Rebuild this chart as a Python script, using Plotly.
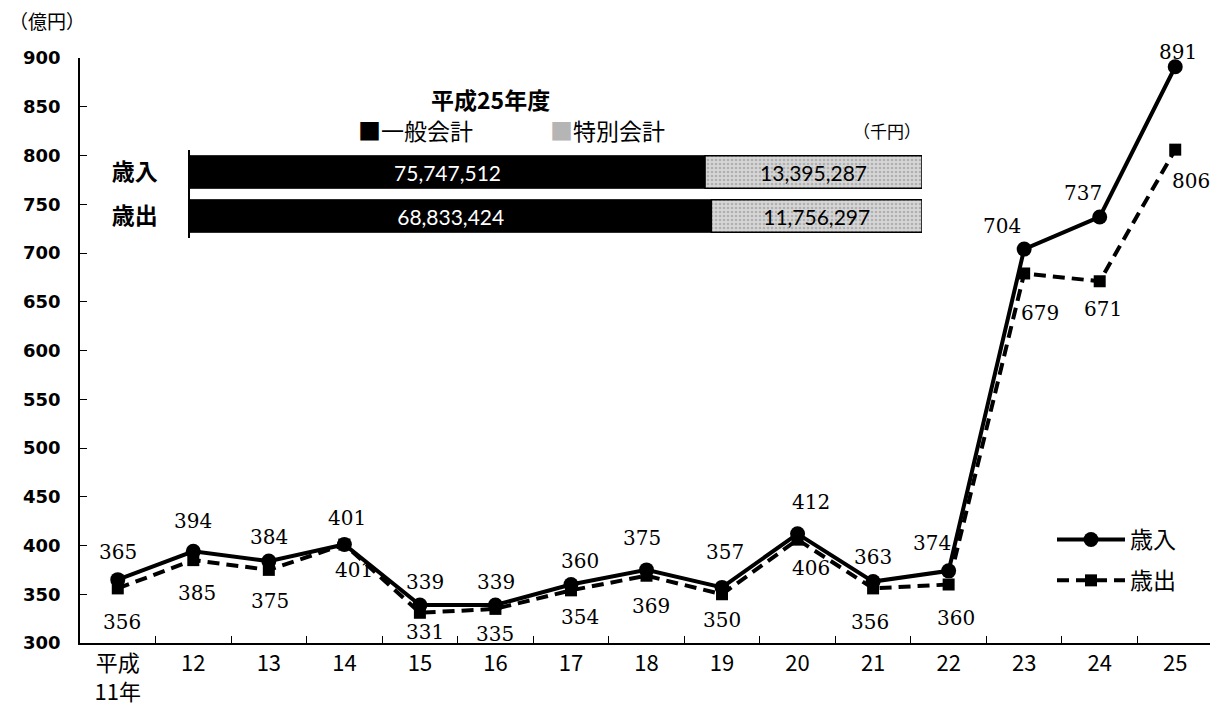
import plotly.graph_objects as go

# ---- data ----
years = ["平成<br>11年", "12", "13", "14", "15", "16", "17", "18", "19", "20", "21", "22", "23", "24", "25"]
revenue = [365, 394, 384, 401, 339, 339, 360, 375, 357, 412, 363, 374, 704, 737, 891]      # 歳入 (億円)
expenditure = [356, 385, 375, 401, 331, 335, 354, 369, 350, 406, 356, 360, 679, 671, 806]  # 歳出 (億円)

inset_cats = ["歳入", "歳出"]
general_acc = [75747512, 68833424]   # 一般会計 (千円)
special_acc = [13395287, 11756297]   # 特別会計 (千円)

# ---- geometry helpers (page has an 8px body margin) ----
OFF = 8
W, H = 1210, 705
ML, MR, MT, MB = 72, 5, 50, 70
PW, PH = W - ML - MR, H - MT - MB


def px(x, y):
    """page pixel -> paper coords"""
    return (x - OFF - ML) / PW, (H - MB - (y - OFF)) / PH


SERIF = "DejaVu Serif, Liberation Serif, serif"
YSANS = "DejaVu Sans, Liberation Sans, sans-serif"
XSANS = "Liberation Sans Narrow, Noto Sans CJK JP, sans-serif"
JP = "Noto Sans CJK JP, sans-serif"

fig = go.Figure()

fig.add_trace(go.Scatter(
    x=years, y=expenditure, name="歳出", mode="lines+markers",
    line=dict(color="black", width=4, dash="12px,7px"),
    marker=dict(symbol="square", size=12, color="black"),
    legendrank=2, legendgroup="b",
))
fig.add_trace(go.Scatter(
    x=years, y=revenue, name="歳入", mode="lines+markers",
    line=dict(color="black", width=4),
    marker=dict(symbol="circle", size=15, color="black"),
    legendrank=1, legendgroup="a",
))

# label offsets (px, right / down) for each point
rev_off = [(0, -28), (0, -30), (0, -24), (3, -27), (5, -23), (1, -23), (9, -24), (-5, -32),
           (3, -35), (13, -32), (0, -25), (-17, -28), (-22, -23), (-17, -24), (3, -15)]
exp_off = [(4, 34), (4, 33), (1, 31), (10, 25), (5, 19), (0, 25), (9, 27), (4, 30),
           (0, 26), (13, 28), (-3, 34), (7, 33), (16, 40), (3, 28), (16, 31)]

annotations = []
for ys, offs in ((revenue, rev_off), (expenditure, exp_off)):
    for i, (yv, (dx, dy)) in enumerate(zip(ys, offs)):
        annotations.append(dict(
            x=i, y=yv, xref="x", yref="y", text=str(yv), showarrow=False,
            xanchor="center", yanchor="middle",
            xshift=dx, yshift=-dy, font=dict(family=SERIF, size=20, color="black"),
        ))

# ---- inset stacked bar (100% basis, axis starting at X0) ----
X0 = 49.3
gen_pct = [g / (g + s) * 100 for g, s in zip(general_acc, special_acc)]
spe_pct = [s / (g + s) * 100 for g, s in zip(general_acc, special_acc)]

fig.add_trace(go.Bar(
    y=inset_cats, x=[p - X0 for p in gen_pct], base=X0, orientation="h",
    xaxis="x2", yaxis="y2", width=0.74, showlegend=False,
    marker=dict(color="black", line=dict(color="black", width=1)),
    text=[f"{v:,}" for v in general_acc], textposition="inside", insidetextanchor="middle",
    textfont=dict(family="Lato, Open Sans, sans-serif", size=21, color="white"),
    hoverinfo="skip",
))
fig.add_trace(go.Bar(
    y=inset_cats, x=spe_pct, base=gen_pct, orientation="h",
    xaxis="x2", yaxis="y2", width=0.74, showlegend=False,
    marker=dict(color="#cfcfcf", line=dict(color="black", width=1.5),
                pattern=dict(shape=".", fgcolor="#8a8a8a", bgcolor="#d6d6d6", size=4, solidity=0.35)),
    text=[f"{v:,}" for v in special_acc], textposition="inside", insidetextanchor="middle",
    textfont=dict(family="Lato, Open Sans, sans-serif", size=21, color="black"),
    hoverinfo="skip",
))

dx0, _ = px(190, 0)
dx1, _ = px(922, 0)
_, dy0 = px(0, 238)
_, dy1 = px(0, 150)

# inset / unit texts
for (x, y), txt, size in (
    ((490, 99), "<b>平成25年度</b>", 23),
    ((416, 130), "■一般会計", 23),
    ((607, 130), "<span style='color:#b5b5b5'>■</span>特別会計", 23),
    ((887, 130), "（千円）", 17),
    ((47, 20), "（億円）", 19),
):
    xp, yp = px(x, y)
    annotations.append(dict(x=xp, y=yp, xref="paper", yref="paper", text=txt, showarrow=False,
                            xanchor="center", yanchor="middle",
                            font=dict(family=JP, size=size, color="black")))

lx, ly = px(1052, 518)

fig.update_layout(
    width=W, height=H,
    margin=dict(l=ML, r=MR, t=MT, b=MB, autoexpand=False),
    paper_bgcolor="white", plot_bgcolor="white",
    barmode="overlay",
    showlegend=True,
    legend=dict(x=lx, y=ly, xanchor="left", yanchor="top", bgcolor="rgba(0,0,0,0)",
                font=dict(family=JP, size=23, color="black"), itemwidth=68, tracegroupgap=8),
    annotations=annotations,
    xaxis=dict(type="category", categoryorder="array", categoryarray=years,
               range=[-0.5, len(years) - 0.5], automargin=False, tickangle=0,
               showline=True, linecolor="black", linewidth=1.5, ticks="inside", ticklen=7,
               tickcolor="black", tickson="boundaries", showgrid=False, zeroline=False,
               tickfont=dict(family=XSANS, size=22, color="black"), fixedrange=True),
    yaxis=dict(range=[300, 900], dtick=50, showline=True, linecolor="black", linewidth=1.5,
               automargin=False,
               ticks="inside", ticklen=7, tickcolor="black", showgrid=False, zeroline=False,
               tickfont=dict(family=YSANS, size=18, color="black", weight="bold"),
               ticklabelstandoff=14, fixedrange=True),
    xaxis2=dict(domain=[dx0, dx1], range=[X0, 100], anchor="y2", visible=False, fixedrange=True),
    yaxis2=dict(domain=[dy0, dy1], anchor="x2", type="category", categoryorder="array",
                categoryarray=inset_cats, autorange="reversed", showline=True, linecolor="black",
                linewidth=1.5, ticks="", showgrid=False, zeroline=False, ticklabelstandoff=26,
                automargin=False,
                tickfont=dict(family=JP, size=23, color="black", weight="bold"), fixedrange=True),
)

fig.write_html("out.html")
